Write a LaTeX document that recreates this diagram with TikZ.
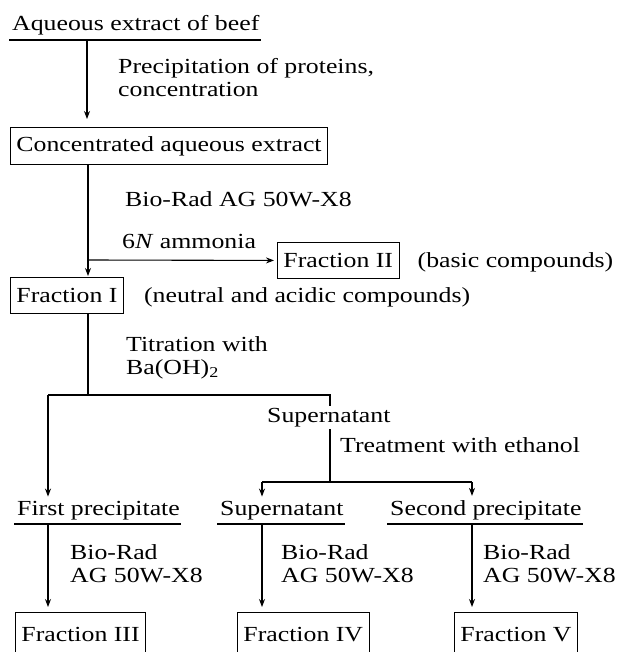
\documentclass[tikz,border=0pt]{standalone}
\usepackage{fontspec}
\setmainfont[FakeStretch=1.2]{Liberation Serif}
\usetikzlibrary{arrows.meta}

\tikzset{
  txt/.style={anchor=base west, align=left, inner sep=0pt},
  fracbox/.style={draw, line width=0.9pt, anchor=north west, inner xsep=6pt, inner ysep=0pt, minimum height=36pt},
  flow/.style={line width=1.1pt},
  arr/.style={flow, -{Stealth[length=8pt,width=6pt]}},
}

\begin{document}
\begin{tikzpicture}[x=1pt, y=-1pt, font=\fontsize{21.5}{23}\selectfont]
\useasboundingbox (0,0) rectangle (622,652);

% two-line labels are placed at the baseline of their last line
\node[txt] (aqueous) at (12,31) {Aqueous extract of beef};
\node[txt] (precip) at (118,97) {Precipitation of proteins,\\concentration};
\node[fracbox, minimum height=37pt] (conc) at (10,127) {Concentrated aqueous extract};
\node[txt] (resin1) at (125,207) {Bio-Rad AG 50W-X8};
\node[txt] (ammonia) at (122,248) {6\textit{N} ammonia};
\node[fracbox] (fracII) at (277,242) {Fraction II};
\node[txt] (basic) at ([xshift=18pt]fracII.base east) {(basic compounds)};
\node[fracbox] (fracI) at (10,277) {Fraction I};
\node[txt] (neutral) at ([xshift=20pt]fracI.base east) {(neutral and acidic compounds)};
\node[txt] (titr) at (126,374) {Titration with\\Ba(OH)\textsubscript{2}};
\node[txt] (ethanol) at (340,452) {Treatment with ethanol};
\node[txt] (firstppt) at (17,515) {First precipitate};
\node[txt] (supern2) at (220,515) {Supernatant};
\node[txt] (secondppt) at (390,515) {Second precipitate};
\node[txt] (resin2) at (70,582) {Bio-Rad\\AG 50W-X8};
\node[txt] (resin3) at (281,582) {Bio-Rad\\AG 50W-X8};
\node[txt] (resin4) at (483,582) {Bio-Rad\\AG 50W-X8};
\node[fracbox, minimum height=44pt] (fracIII) at (15,612) {Fraction III};
\node[fracbox, minimum height=44pt] (fracIV) at (237,612) {Fraction IV};
\node[fracbox, minimum height=44pt] (fracV) at (454,612) {Fraction V};

% underlined headings
\foreach \n in {aqueous,firstppt,supern2,secondppt}{
\draw[flow] ([xshift=-3pt,yshift=-9pt]\n.base west) -- ([xshift=1pt,yshift=-9pt]\n.base east);
}

% extract -> concentrate -> fractions I/II
\coordinate (s1) at (87,40);
\draw[arr, shorten >=8pt] (s1) -- (s1 |- conc.north);
\coordinate (j1) at (88,260);
\draw[flow] (conc.south -| j1) -- (j1);
\draw[arr, shorten >=1pt] (j1) -- (j1 |- fracI.north);
\draw[arr, shorten >=3pt] (j1) -- (fracII.west);

% Ba(OH)2 split
\coordinate (j2) at (88,395);
\draw[flow] (fracI.south -| j2) -- (j2);
\coordinate (jl) at (48,395);
\coordinate (jr) at (330,395);
\coordinate (j3) at (330,482);
\draw[flow] (jl) -- (jr) -- (j3);
\node[txt, fill=white, inner ysep=2pt] (supern1) at (267,422) {Supernatant};
\draw[arr, shorten >=4pt] (jl) -- (jl |- firstppt.north);

% ethanol split
\coordinate (jm) at (262,482);
\coordinate (jn) at (472,482);
\draw[flow] (jm) -- (jn);
\draw[arr, shorten >=4pt] (jm) -- (jm |- supern2.north);
\draw[arr, shorten >=4pt] (jn) -- (jn |- secondppt.north);

% ion exchange -> fractions III-V
\coordinate (u1) at (48,523);
\coordinate (u2) at (262,523);
\coordinate (u3) at (472,523);
\foreach \u/\f in {u1/fracIII,u2/fracIV,u3/fracV}{
\draw[arr, shorten >=5pt] (\u) -- (\u |- \f.north);
}
\end{tikzpicture}
\end{document}
